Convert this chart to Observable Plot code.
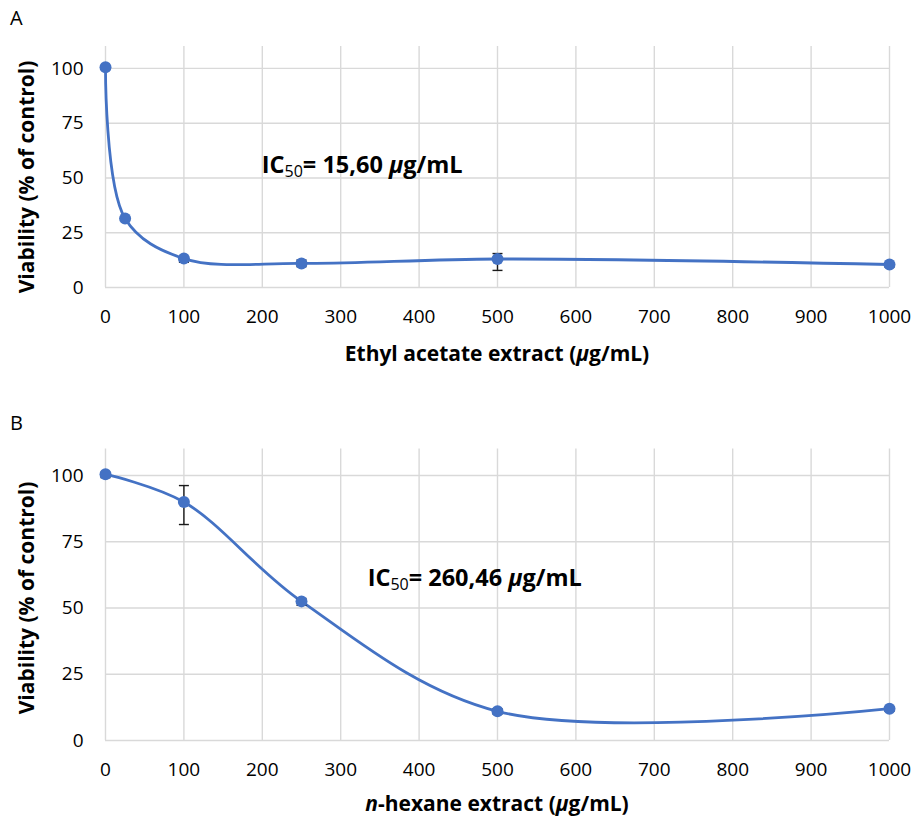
<!DOCTYPE html>
<html><head><meta charset="utf-8">
<script src="https://cdn.jsdelivr.net/npm/d3@7"></script>
<script src="https://cdn.jsdelivr.net/npm/@observablehq/plot@0.6"></script>
<style>
body{margin:0;background:#fff;}
#fig{position:relative;width:915px;height:821px;font-family:"Open Sans",sans-serif;background:#fff;}
.panel{position:absolute;left:10px;font-size:20px;color:#000;line-height:1;z-index:2;}
.chart{position:absolute;left:0;z-index:1;}
svg{display:block}
</style></head><body>
<div id="fig">
  <div class="chart" id="ca" style="top:0px"></div>
  <div class="chart" id="cb" style="top:400px"></div>
  <div class="panel" style="top:8px">A</div>
  <div class="panel" style="top:413px">B</div>
</div>
<script>
// Panel A: ethyl acetate extract
const concA = [0, 25, 100, 250, 500, 1000];
const viabA = [100.5, 31.5, 13.2, 11, 13, 10.5];
const lowA  = [100, 31, 11.5, 9.5, 7.8, 9.3];
const highA = [101, 32, 14, 12.5, 15.5, 11];
// Panel B: n-hexane extract
const concB = [0, 100, 250, 500, 1000];
const viabB = [100.5, 90, 52.5, 11, 12];
const lowB  = [99.2, 81.5, 51, 10, 11];
const highB = [101.2, 96.2, 53.5, 12, 12.5];

const xTicks = [0,100,200,300,400,500,600,700,800,900,1000];
const yTicks = [0,25,50,75,100];
const BLUE = "#4472c4";
const FONT = "'Open Sans', sans-serif";

const capSym = {draw(ctx, size){ const w = Math.sqrt(size/Math.PI); ctx.moveTo(-w,0); ctx.lineTo(w,0); }};

function makeChart(o){
  const data = o.conc.map((c,i)=>({c, v:o.viab[i], lo:o.low[i], hi:o.high[i]}));
  const mL = 105, mR = 26, W = 915;
  const p = Plot.plot({
    width: W, height: o.height, marginTop: o.mt, marginBottom: o.mb, marginLeft: mL, marginRight: mR,
    style: {fontFamily: FONT, fontSize: "19px", color: "#000", background: "transparent", overflow: "visible"},
    x: {domain: [0,1000]},
    y: {domain: [0,110]},
    marks: [
      Plot.gridX(xTicks, {stroke: "#d9d9d9", strokeOpacity: 1, strokeWidth: 1.4}),
      Plot.gridY(yTicks, {stroke: "#d9d9d9", strokeOpacity: 1, strokeWidth: 1.4}),
      Plot.line(data, {x: "c", y: "v", curve: "catmull-rom", stroke: BLUE, strokeWidth: 2.8}),
      Plot.ruleX(data, {x: "c", y1: "lo", y2: "hi", stroke: "#1a1a1a", strokeWidth: 1.4}),
      Plot.dot(data, {x: "c", y: "lo", symbol: capSym, r: 5, fill: "none", stroke: "#1a1a1a", strokeWidth: 1.4}),
      Plot.dot(data, {x: "c", y: "hi", symbol: capSym, r: 5, fill: "none", stroke: "#1a1a1a", strokeWidth: 1.4}),
      Plot.dot(data, {x: "c", y: "v", r: 6, fill: BLUE, stroke: "none"}),
      Plot.axisX(xTicks, {tickSize: 0, tickPadding: 22, label: null, fontSize: 19, tickFormat: d => String(d)}),
      Plot.axisY(yTicks, {tickSize: 0, tickPadding: 22, label: null, fontSize: 19, tickFormat: d => String(d)})
    ]
  });
  const sx = p.scale("x"), sy = p.scale("y");
  const svg = d3.select(p);
  const plotBottom = o.height - o.mb;
  // x axis title
  const xt = svg.append("text")
    .attr("x", (mL + W - mR)/2).attr("y", plotBottom + o.xTitleDy)
    .attr("text-anchor", "middle").attr("dominant-baseline", "middle")
    .attr("font-family", FONT).attr("font-weight", "bold").attr("font-size", 21).attr("fill", "#000");
  o.xTitle.forEach(s => { const t = xt.append("tspan").text(s.t); if (s.i) t.attr("font-style", "italic"); });
  // y axis title
  svg.append("text")
    .attr("transform", `translate(28,${o.yTitleCy}) rotate(-90)`)
    .attr("text-anchor", "middle").attr("dominant-baseline", "middle")
    .attr("font-family", FONT).attr("font-weight", "bold").attr("font-size", 21).attr("fill", "#000")
    .text("Viability (% of control)");
  // IC50 annotation
  const ic = svg.append("text")
    .attr("x", sx.apply(o.icX)).attr("y", sy.apply(o.icY))
    .attr("text-anchor", "start").attr("dominant-baseline", "middle")
    .attr("font-family", FONT).attr("font-weight", "bold").attr("font-size", 23.5).attr("fill", "#000");
  ic.append("tspan").text("IC");
  ic.append("tspan").text("50").attr("font-size", 16).attr("font-weight", "normal").attr("dy", 6);
  ic.append("tspan").text("= " + o.icVal + " ").attr("dy", -6);
  ic.append("tspan").text("\u00b5").attr("font-style", "italic");
  ic.append("tspan").text("g/mL");
  return p;
}

document.getElementById("ca").appendChild(makeChart({
  conc: concA, viab: viabA, low: lowA, high: highA,
  height: 400, mt: 46, mb: 113, xTitleDy: 68, yTitleCy: 177,
  xTitle: [{t: "Ethyl acetate extract ("}, {t: "\u00b5", i: true}, {t: "g/mL)"}],
  icX: 200, icY: 55, icVal: "15,60"
}));
document.getElementById("cb").appendChild(makeChart({
  conc: concB, viab: viabB, low: lowB, high: highB,
  height: 421, mt: 48.5, mb: 81, xTitleDy: 65, yTitleCy: 198,
  xTitle: [{t: "n", i: true}, {t: "-hexane extract ("}, {t: "\u00b5", i: true}, {t: "g/mL)"}],
  icX: 335, icY: 60.4, icVal: "260,46"
}));
</script>
</body></html>
